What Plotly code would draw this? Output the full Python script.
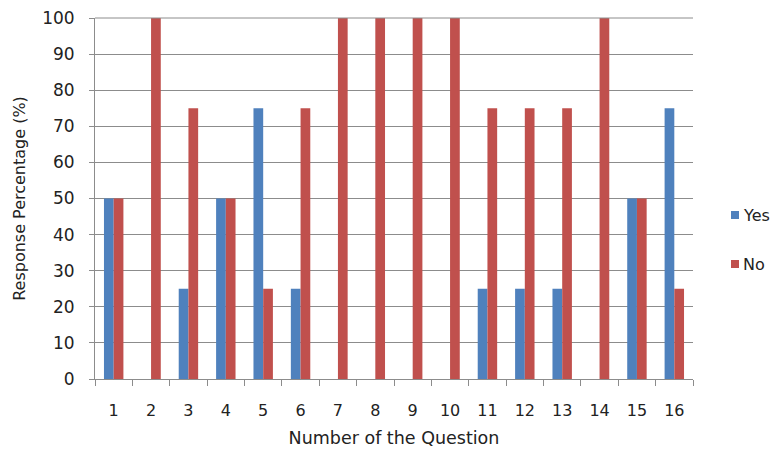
import plotly.graph_objects as go

questions = [str(i) for i in range(1, 17)]
yes_pct = [50, 0, 25, 50, 75, 25, 0, 0, 0, 0, 25, 25, 25, 0, 50, 75]
no_pct = [50, 100, 75, 50, 25, 75, 100, 100, 100, 100, 75, 75, 75, 100, 50, 25]
series_names = ["Yes", "No"]
series_colors = ["#4F81BD", "#C0504D"]

font_family = "DejaVu Sans"
grid_col = "#8c8c8c"
text_col = "#222222"

W, H = 777, 451
M_L, M_R, M_T, M_B = 95, 84, 18, 72
plot_w = W - M_L - M_R
plot_h = H - M_T - M_B


def px_x(px):
    return (px - M_L) / plot_w


def px_y(py):
    return (H - M_B - py) / plot_h


fig = go.Figure()
for name, vals, col in zip(series_names, [yes_pct, no_pct], series_colors):
    fig.add_trace(go.Bar(x=questions, y=vals, name=name, marker_color=col,
                         marker_line_width=0, showlegend=False))

fig.update_layout(
    width=W, height=H,
    margin=dict(l=M_L, r=M_R, t=M_T, b=M_B, autoexpand=False),
    paper_bgcolor="white", plot_bgcolor="white",
    barmode="group", bargap=0.48, bargroupgap=0,
    font=dict(family=font_family, size=16, color=text_col),
)
fig.update_xaxes(
    type="category", showgrid=False, showline=True, linecolor=grid_col, linewidth=1,
    ticks="outside", tickson="boundaries", ticklen=6, tickcolor=grid_col,
    tickfont=dict(size=16, color=text_col), ticklabelstandoff=17,
    title=dict(text="Number of the Question", font=dict(size=17.5, color=text_col), standoff=12),
)
fig.update_yaxes(
    range=[0, 100], dtick=10, showgrid=True, gridcolor=grid_col, gridwidth=1,
    showline=True, linecolor=grid_col, linewidth=1, zeroline=False,
    ticks="outside", ticklen=5, tickcolor=grid_col,
    tickfont=dict(size=17, color=text_col), ticklabelstandoff=11,
    title=dict(text="Response Percentage (%)", font=dict(size=16, color=text_col), standoff=12),
)
# top border of the plot area
fig.add_shape(type="line", xref="paper", yref="paper", x0=0, x1=1, y0=1, y1=1,
              line=dict(color=grid_col, width=1))

# legend: colour swatch plus label for each series
legend_rows = [215, 264]
for name, col, cy in zip(series_names, series_colors, legend_rows):
    fig.add_shape(type="rect", xref="paper", yref="paper",
                  x0=px_x(731), x1=px_x(739), y0=px_y(cy + 4), y1=px_y(cy - 4),
                  fillcolor=col, line=dict(width=0))
    fig.add_annotation(text=name, xref="paper", yref="paper",
                       x=px_x(741), y=px_y(cy), xanchor="left", yanchor="middle",
                       showarrow=False, font=dict(size=16, color=text_col))

fig.write_html("out.html")
